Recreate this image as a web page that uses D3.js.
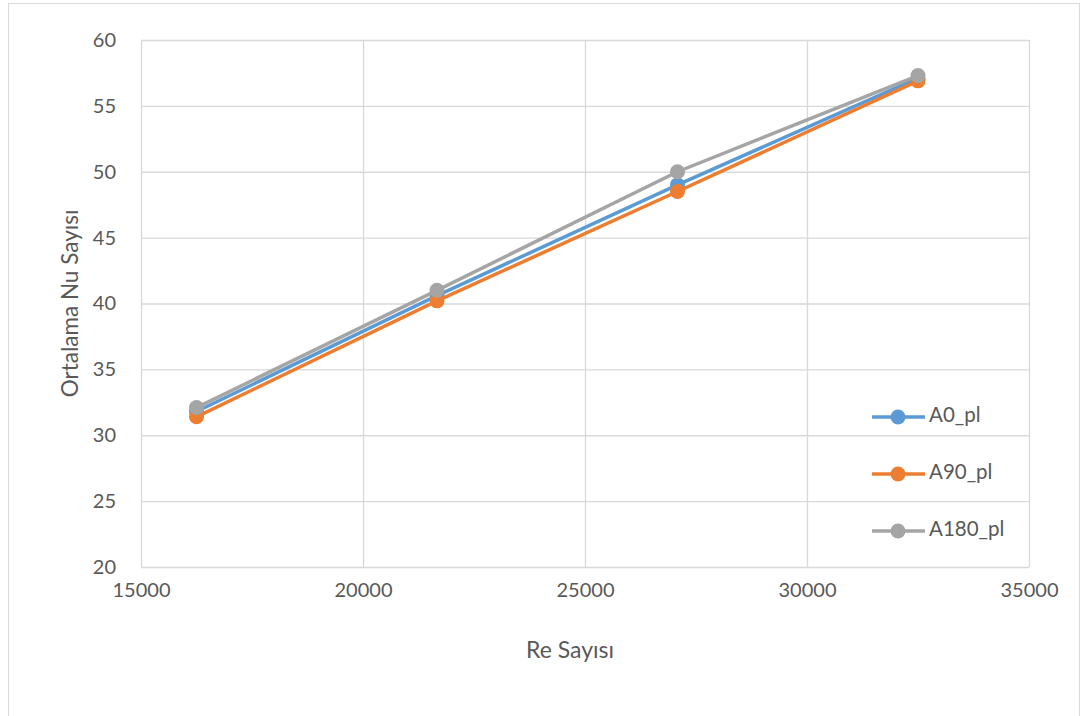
<!DOCTYPE html>
<html>
<head>
<meta charset="utf-8">
<script src="https://cdn.jsdelivr.net/npm/d3@7"></script>
<style>
  html, body { margin: 0; padding: 0; background: #fff; }
  svg { display: block; font-family: Lato, "Open Sans", sans-serif; }
</style>
</head>
<body>
<svg id="chart" width="1086" height="716"></svg>
<script>
// Reynolds numbers (x) and mean Nusselt numbers for each configuration
const reValues = [16250, 21667, 27083, 32500];
const nuA0   = [31.8, 40.6, 49.0, 57.1];
const nuA90  = [31.4, 40.2, 48.5, 56.9];
const nuA180 = [32.1, 41.0, 50.0, 57.3];
const seriesNames = ["A0_pl", "A90_pl", "A180_pl"];
const seriesColors = ["#5B9BD5", "#ED7D31", "#A5A5A5"];
const xTicks = [15000, 20000, 25000, 30000, 35000];
const yTicks = [20, 25, 30, 35, 40, 45, 50, 55, 60];

const series = [nuA0, nuA90, nuA180].map((vals, i) => ({
  name: seriesNames[i],
  color: seriesColors[i],
  points: vals.map((v, j) => ({ x: reValues[j], y: v }))
}));

const svg = d3.select("#chart");
const plot = { left: 141, right: 1029, top: 40, bottom: 567 };

// chart frame
svg.append("rect")
  .attr("x", 8.5).attr("y", 3.5)
  .attr("width", 1071).attr("height", 720)
  .attr("fill", "#fff").attr("stroke", "#d9d9d9").attr("stroke-width", 1);

const x = d3.scaleLinear().domain([15000, 35000]).range([plot.left, plot.right]);
const y = d3.scaleLinear().domain([20, 60]).range([plot.bottom, plot.top]);

// gridlines
const gx = svg.append("g")
  .attr("transform", `translate(0,${plot.bottom})`)
  .call(d3.axisBottom(x).tickValues(xTicks).tickSize(-(plot.bottom - plot.top)).tickFormat(""));
gx.select(".domain").remove();
gx.selectAll("line").attr("stroke", "#d9d9d9").attr("stroke-width", 1.3);

const gy = svg.append("g")
  .attr("transform", `translate(${plot.left},0)`)
  .call(d3.axisLeft(y).tickValues(yTicks).tickSize(-(plot.right - plot.left)).tickFormat(""));
gy.select(".domain").remove();
gy.selectAll("line").attr("stroke", "#d9d9d9").attr("stroke-width", 1.3);

// tick labels
const xl = svg.append("g")
  .attr("transform", `translate(0,${plot.bottom + 13})`)
  .call(d3.axisBottom(x).tickValues(xTicks).tickSize(0).tickFormat(d3.format("d")));
xl.select(".domain").remove();
xl.selectAll("text")
  .attr("fill", "#595959").attr("font-size", 20).attr("font-family", "Lato, sans-serif");

const yl = svg.append("g")
  .attr("transform", `translate(${plot.left - 22},0)`)
  .call(d3.axisLeft(y).tickValues(yTicks).tickSize(0).tickFormat(d3.format("d")));
yl.select(".domain").remove();
yl.selectAll("text")
  .attr("fill", "#595959").attr("font-size", 20).attr("font-family", "Lato, sans-serif");

// axis titles
svg.append("text")
  .attr("x", 570).attr("y", 652)
  .attr("text-anchor", "middle").attr("dominant-baseline", "middle")
  .attr("fill", "#595959").attr("font-size", 23)
  .text("Re Sayısı");

svg.append("text")
  .attr("transform", `translate(72,${(plot.top + plot.bottom) / 2}) rotate(-90)`)
  .attr("text-anchor", "middle").attr("dominant-baseline", "middle")
  .attr("fill", "#595959").attr("font-size", 22.5)
  .text("Ortalama Nu Sayısı");

// series lines and markers
const line = d3.line().x(d => x(d.x)).y(d => y(d.y));
series.forEach(s => {
  svg.append("path")
    .datum(s.points)
    .attr("d", line)
    .attr("fill", "none")
    .attr("stroke", s.color)
    .attr("stroke-width", 3.5)
    .attr("stroke-linejoin", "round");
  svg.append("g").selectAll("circle")
    .data(s.points)
    .join("circle")
    .attr("cx", d => x(d.x)).attr("cy", d => y(d.y))
    .attr("r", 7.5)
    .attr("fill", s.color);
});

// legend
const legend = svg.append("g");
series.forEach((s, i) => {
  const ly = 417 + i * 57;
  legend.append("line")
    .attr("x1", 872).attr("x2", 925).attr("y1", ly).attr("y2", ly)
    .attr("stroke", s.color).attr("stroke-width", 3.5);
  legend.append("circle")
    .attr("cx", 898).attr("cy", ly).attr("r", 7.5).attr("fill", s.color);
  legend.append("text")
    .attr("x", 929).attr("y", ly)
    .attr("dominant-baseline", "middle")
    .attr("fill", "#595959").attr("font-size", 20.5)
    .text(s.name);
});
</script>
</body>
</html>
